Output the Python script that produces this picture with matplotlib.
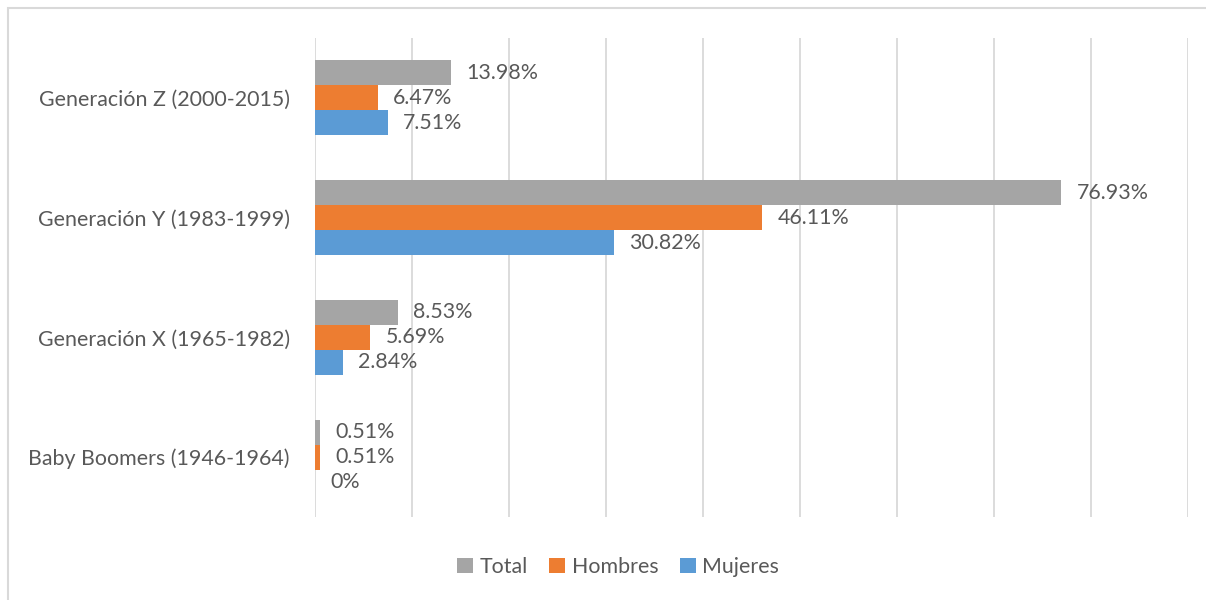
import matplotlib.pyplot as plt
from matplotlib.patches import Rectangle
import numpy as np

categories = ['Baby Boomers (1946-1964)', 'Generación X (1965-1982)',
              'Generación Y (1983-1999)', 'Generación Z (2000-2015)']
total = [0.51, 8.53, 76.93, 13.98]
hombres = [0.51, 5.69, 46.11, 6.47]
mujeres = [0.0, 2.84, 30.82, 7.51]
labels_total = ['0.51%', '8.53%', '76.93%', '13.98%']
labels_hombres = ['0.51%', '5.69%', '46.11%', '6.47%']
labels_mujeres = ['0%', '2.84%', '30.82%', '7.51%']

text_color = '#595959'
plt.rcParams['font.family'] = ['Lato', 'DejaVu Sans']
fs = 15.4

fig = plt.figure(figsize=(12.06, 6), dpi=100)
ax = fig.add_axes([315 / 1206, 1 - 517 / 600, 873 / 1206, 479 / 600])

# outer chart border (cut off on right and bottom)
fig.patches.append(Rectangle((8 / 1206, -0.1), 1.2, 1 - 8 / 600 + 0.1,
                             transform=fig.transFigure, fill=False,
                             edgecolor='#d9d9d9', linewidth=1.5))

y = np.arange(len(categories))
h = 0.625 / 3
series = [
    (total, labels_total, '#a5a5a5', 'Total', h),
    (hombres, labels_hombres, '#ed7d31', 'Hombres', 0),
    (mujeres, labels_mujeres, '#5b9bd5', 'Mujeres', -h),
]
for vals, labs, color, name, off in series:
    bars = ax.barh(y + off, vals, height=h, color=color, label=name, zorder=3)
    for b, lab in zip(bars, labs):
        ax.annotate(lab, (b.get_width(), b.get_y() + b.get_height() / 2),
                    xytext=(11, 0), textcoords='offset points',
                    va='center', ha='left', fontsize=fs, color=text_color)

ax.set_xlim(0, 90)
ax.set_ylim(-0.5, 3.5)
ax.set_xticks(np.arange(0, 91, 10))
ax.set_xticklabels([])
ax.tick_params(axis='x', length=0)
ax.tick_params(axis='y', length=0, pad=18, labelsize=fs, labelcolor=text_color)
ax.set_yticks(y)
ax.set_yticklabels(categories)
ax.grid(axis='x', color='#d9d9d9', linewidth=1.3, zorder=0)
for s in ax.spines.values():
    s.set_visible(False)

leg = fig.legend(loc='center', bbox_to_anchor=(618 / 1206, 1 - 567 / 600), ncol=3,
                 frameon=False, fontsize=fs, handlelength=0.75, handleheight=0.75,
                 handletextpad=0.3, columnspacing=1.0)
for t in leg.get_texts():
    t.set_color(text_color)

fig.savefig('out.png', dpi=100)
